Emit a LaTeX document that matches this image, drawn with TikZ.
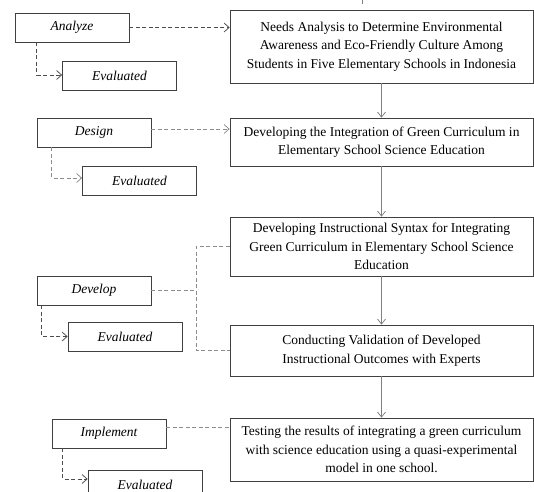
\documentclass[tikz,border=0pt]{standalone}
\usepackage{fontspec}
\setmainfont{Liberation Serif}
\usetikzlibrary{arrows.meta}
\begin{document}
\begin{tikzpicture}[x=1pt,y=-1pt,
  box/.style={draw=black!75, line width=0.75pt, inner sep=0pt, align=center,
    font=\fontsize{13.5}{18.5}\selectfont},
  phase/.style={box, font=\fontsize{13.5}{16}\selectfont\itshape, minimum width=114pt, minimum height=29pt},
  mainbox/.style={box, minimum width=303pt},
  dsh/.style={dash pattern=on 4pt off 2.5pt, line width=0.75pt},
  darkln/.style={dsh, draw=black!70},
  greyln/.style={dsh, draw=black!45},
  tip/.style={-{Straight Barb[length=5pt,width=9pt]}},
  vtip/.style={draw=black!50, line width=0.75pt, -{Straight Barb[length=5pt,width=8pt]}}
]
\path[use as bounding box, clip] (0,0) rectangle (534,491);

% phase boxes
\node[phase] (ana) at (72,27.5) {Analyze};
\node[phase] (ev1) at (119.5,76) {Evaluated};
\node[phase] (des) at (94,132.5) {Design};
\node[phase] (ev2) at (139.5,181) {Evaluated};
\node[phase] (dev) at (94,290.5) {Develop};
\node[phase] (ev3) at (125,336.5) {Evaluated};
\node[phase] (imp) at (109,433.5) {Implement};
\node[phase] (ev4) at (145,484.5) {Evaluated};

% main boxes
\node[mainbox, minimum height=73pt] (b1) at (381.5,46.5) {Needs Analysis to Determine Environmental\\Awareness and Eco-Friendly Culture Among\\Students in Five Elementary Schools in Indonesia};
\node[mainbox, minimum height=48pt] (b2) at (381.5,142) {Developing the Integration of Green Curriculum in\\Elementary School Science Education};
\node[mainbox, minimum height=59pt] (b3) at (381.5,246.5) {Developing Instructional Syntax for Integrating\\Green Curriculum in Elementary School Science\\Education};
\node[mainbox, minimum height=51pt] (b4) at (381.5,350.5) {Conducting Validation of Developed\\Instructional Outcomes with Experts};
\node[mainbox, minimum height=63pt] (b5) at (381.5,449.5) {Testing the results of integrating a green curriculum\\with science education using a quasi-experimental\\model in one school.};

% top stub
\coordinate (topa) at (362,0);
\coordinate (topb) at (362,4);
\draw[draw=black!50, line width=0.75pt] (topa) -- (topb);

% vertical arrows
\draw[vtip] (b1.south) -- (b2.north);
\draw[vtip] (b2.south) -- (b3.north);
\draw[vtip] (b3.south) -- (b4.north);
\draw[vtip] (b4.south) -- (b5.north);

% phase to main
\draw[darkln, tip] (ana.east) -- (ana.east -| b1.west);
\draw[greyln, tip] ([yshift=3.5pt]des.east) -- ([yshift=3.5pt]des.east -| b2.west);
\coordinate (jn) at (196,290.5);
\draw[greyln] (dev.east) -- (jn);
\draw[greyln] (b3.west) -| (jn) |- (b4.west);
\draw[greyln] ([yshift=6.5pt]imp.east) -- ([yshift=6.5pt]imp.east -| b5.west);

% evaluated connectors
\draw[darkln, tip] ([xshift=22pt]ana.south west) |- ([yshift=1pt]ev1.west);
\draw[greyln, tip] ([xshift=15pt]des.south west) |- ([yshift=3pt]ev2.west);
\draw[darkln, tip] ([xshift=5pt]dev.south west) |- (ev3.west);
\draw[darkln, tip] ([xshift=11pt]imp.south west) |- ([yshift=5.5pt]ev4.west);
\end{tikzpicture}
\end{document}
